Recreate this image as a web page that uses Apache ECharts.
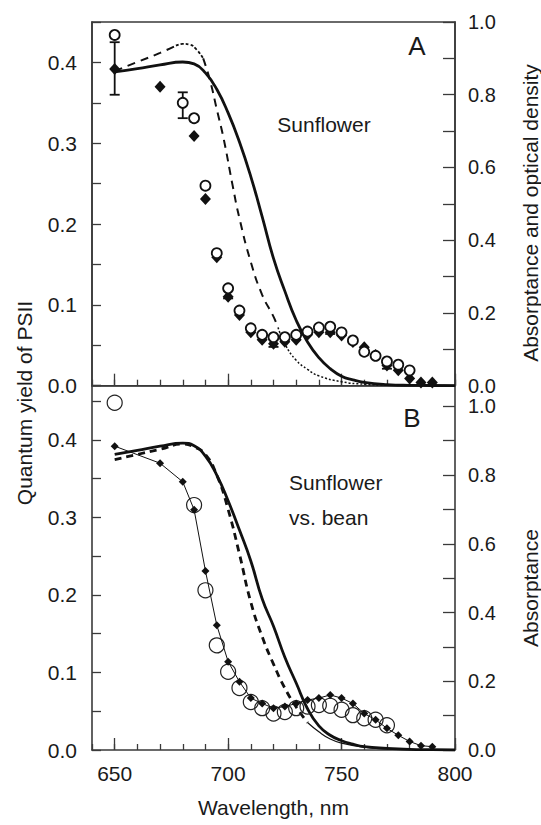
<!DOCTYPE html>
<html><head><meta charset="utf-8">
<script src="https://cdn.jsdelivr.net/npm/echarts@6/dist/echarts.min.js"></script>
<style>html,body{margin:0;padding:0;background:#fff}#c{width:541px;height:825px}</style>
</head><body><div id="c"></div>
<script>
// ---------- DATA ----------
// Panel A (Sunflower)
const circA_wl  = [650, 680, 685, 690, 695, 700, 705, 710, 715, 720, 725, 730, 735, 740, 745, 750, 755, 760, 765, 770, 775, 780];
const circA_val = [0.434, 0.350, 0.331, 0.2475, 0.164, 0.1205, 0.093, 0.071, 0.063, 0.060, 0.060, 0.063, 0.067, 0.072, 0.073, 0.066, 0.056, 0.042, 0.037, 0.030, 0.026, 0.019];
const diaA_wl   = [650, 670, 685, 690, 695, 700, 705, 710, 715, 720, 725, 730, 735, 740, 745, 750, 755, 760, 765, 770, 775, 780, 785, 790];
const diaA_val  = [0.392, 0.370, 0.309, 0.231, 0.159, 0.110, 0.0875, 0.066, 0.057, 0.052, 0.0545, 0.057, 0.063, 0.066, 0.066, 0.062, 0.054, 0.0475, 0.038, 0.025, 0.019, 0.009, 0.004, 0.004];
const errA_wl   = [650, 680, 700, 720, 745, 770];
const errA_lo   = [0.360, 0.331, 0.108, 0.048, 0.064, 0.021];
const errA_hi   = [0.425, 0.363, 0.118, 0.060, 0.074, 0.030];
const absA_wl   = [650, 660, 670, 680, 685, 690, 695, 700, 705, 710, 715, 720, 725, 730, 735, 740, 745, 750, 755, 760, 770, 780, 790, 800];
const absA_val  = [0.863, 0.872, 0.882, 0.890, 0.885, 0.860, 0.815, 0.750, 0.670, 0.575, 0.465, 0.350, 0.260, 0.180, 0.120, 0.077, 0.047, 0.026, 0.016, 0.009, 0.003, 0.001, 0.0005, 0];
const odA_wl    = [650, 660, 670, 677, 680, 683, 686, 689, 692, 695, 698, 702, 705, 710, 715, 720, 722, 725, 730, 735, 740, 750, 760, 770, 780, 800];
const odA_val   = [0.865, 0.890, 0.915, 0.935, 0.940, 0.938, 0.925, 0.900, 0.840, 0.760, 0.680, 0.550, 0.460, 0.340, 0.250, 0.190, 0.160, 0.115, 0.070, 0.045, 0.027, 0.011, 0.004, 0.0015, 0.0005, 0];
// Panel B (Sunflower vs. bean)
const circB_wl  = [650, 685, 690, 695, 700, 705, 710, 715, 720, 725, 730, 735, 740, 745, 750, 755, 760, 765, 770];
const circB_val = [0.448, 0.316, 0.206, 0.135, 0.101, 0.080, 0.062, 0.054, 0.047, 0.049, 0.054, 0.056, 0.058, 0.057, 0.052, 0.045, 0.041, 0.039, 0.032];
const diaB_wl   = [650, 670, 680, 685, 690, 695, 700, 705, 710, 715, 720, 725, 730, 735, 740, 745, 750, 755, 760, 765, 770, 775, 780, 785, 790];
const diaB_val  = [0.392, 0.370, 0.346, 0.310, 0.231, 0.161, 0.114, 0.088, 0.067, 0.060, 0.054, 0.056, 0.060, 0.0645, 0.067, 0.071, 0.067, 0.060, 0.047, 0.039, 0.028, 0.019, 0.011, 0.0056, 0.0043];
const absB_wl   = [650, 660, 670, 680, 685, 690, 695, 700, 705, 710, 715, 720, 725, 730, 735, 740, 745, 750, 755, 760, 770, 780, 790, 800];
const absB_val  = [0.860, 0.872, 0.884, 0.893, 0.885, 0.855, 0.800, 0.725, 0.640, 0.550, 0.440, 0.360, 0.270, 0.195, 0.120, 0.070, 0.043, 0.027, 0.017, 0.010, 0.005, 0.002, 0.001, 0];
const absB2_wl  = [650, 660, 670, 680, 685, 690, 695, 700, 705, 710, 715, 720, 725, 730, 735, 740, 745, 750, 760, 770, 780, 800];
const absB2_val = [0.845, 0.860, 0.875, 0.890, 0.882, 0.860, 0.800, 0.700, 0.570, 0.430, 0.330, 0.250, 0.180, 0.125, 0.080, 0.053, 0.032, 0.020, 0.008, 0.003, 0.001, 0];
// Tick labels
const xTickLabels = [650, 700, 750, 800];
const leftTickLabels = ['0.0', '0.1', '0.2', '0.3', '0.4'];
const rightTickLabels = ['0.0', '0.2', '0.4', '0.6', '0.8', '1.0'];

// ---------- HELPERS ----------
const zip = (a, b) => a.map((v, i) => [v, b[i]]);
const range = (xs, ys, lo, hi) => zip(xs, ys).filter(p => p[0] >= lo && p[0] <= hi);
const FONT = '"Liberation Sans", Arial, Helvetica, sans-serif';
const FS = 21;
const AX = '#3a3a3a';
const TXT = '#1a1a1a';
const fmtLeft = v => { const s = v.toFixed(1); return (Math.abs(v * 10 - Math.round(v * 10)) < 1e-6 && leftTickLabels.includes(s)) ? s : ''; };
const fmtRight = v => { const s = v.toFixed(1); return (Math.abs(v * 10 - Math.round(v * 10)) < 1e-6 && rightTickLabels.includes(s)) ? s : ''; };
const fmtX = v => xTickLabels.includes(Math.round(v)) && Math.abs(v - Math.round(v)) < 1e-6 ? String(v) : '';

const G = { left: 92, width: 363 };
const gridA = { left: G.left, width: G.width, top: 22, height: 363.7 };
const gridB = { left: G.left, width: G.width, top: 385.7, height: 364.3 };
const off = 10 * G.width / 160;

function xAx(gi, showLabels) {
  return {
    type: 'value', gridIndex: gi, min: 640, max: 800, interval: 10,
    axisLine: { lineStyle: { color: AX, width: 1.6 } },
    axisTick: { inside: true, length: 6, lineStyle: { color: AX, width: 1.3 } },
    axisLabel: { show: showLabels, formatter: fmtX, fontSize: FS, fontFamily: FONT, color: TXT, margin: 13 },
    splitLine: { show: false },
    name: showLabels ? 'Wavelength, nm' : '', nameLocation: 'middle', nameGap: 47,
    nameTextStyle: { fontSize: FS, fontFamily: FONT, color: TXT }
  };
}
function majorAx(gi) {
  return {
    type: 'value', gridIndex: gi, min: 650, max: 800, interval: 50,
    axisLine: { show: false },
    axisTick: { inside: true, length: 12, lineStyle: { color: AX, width: 1.3 } },
    axisLabel: { show: false }, splitLine: { show: false }
  };
}
function yAx(gi, pos, max, interval, fmt, tickLen) {
  return {
    type: 'value', gridIndex: gi, position: pos, min: 0, max: max, interval: interval,
    axisLine: { show: true, lineStyle: { color: AX, width: 1.6 } },
    axisTick: { show: true, inside: true, length: tickLen, lineStyle: { color: AX, width: 1.3 } },
    axisLabel: { formatter: fmt, fontSize: pos === 'left' ? FS : 20, fontFamily: FONT, color: TXT, lineHeight: 15,
      margin: pos === 'left' ? 15 : 13, showMaxLabel: true, showMinLabel: true, hideOverlap: false },
    splitLine: { show: false }
  };
}
const hiddenY = gi => ({ type: 'value', gridIndex: gi, min: 0, max: 1, show: false });

const errRender = (params, api) => {
  const x = api.value(0), lo = api.value(1), hi = api.value(2);
  const a = api.coord([x, lo]), b = api.coord([x, hi]);
  const w = 5, st = { stroke: '#111', lineWidth: 1.8 };
  return { type: 'group', children: [
    { type: 'line', shape: { x1: a[0], y1: a[1], x2: b[0], y2: b[1] }, style: st },
    { type: 'line', shape: { x1: a[0] - w, y1: a[1], x2: a[0] + w, y2: a[1] }, style: st },
    { type: 'line', shape: { x1: b[0] - w, y1: b[1], x2: b[0] + w, y2: b[1] }, style: st }
  ]};
};

const lineS = (xi, yi, data, width, type, z) => ({
  type: 'line', xAxisIndex: xi, yAxisIndex: yi, data: data, showSymbol: false, symbol: 'none',
  smooth: 0.5, lineStyle: { color: '#111', width: width, type: type, opacity: 1 }, z: z, silent: true
});

const chart = echarts.init(document.getElementById('c'), null, { renderer: 'svg' });
chart.setOption({
  animation: false,
  backgroundColor: '#fff',
  grid: [
    Object.assign({ show: true, borderColor: AX, borderWidth: 1.6, backgroundColor: 'transparent' }, gridA),
    Object.assign({}, gridB),
    { left: G.left + off, width: G.width - off, top: gridA.top, height: gridA.height },
    { left: G.left + off, width: G.width - off, top: gridB.top, height: gridB.height }
  ],
  xAxis: [xAx(0, false), xAx(1, true), majorAx(2), majorAx(3)],
  yAxis: [
    yAx(0, 'left', 0.45, 0.05, fmtLeft, 9),
    yAx(0, 'right', 1.0, 0.1, fmtRight, 12),
    yAx(1, 'left', 0.47, 0.05, fmtLeft, 9),
    yAx(1, 'right', 1.06, 0.1, fmtRight, 12),
    hiddenY(2), hiddenY(3)
  ],
  series: [
    // Panel A
    lineS(0, 1, zip(absA_wl, absA_val), 2.8, 'solid', 2),
    lineS(0, 1, range(odA_wl, odA_val, 650, 677), 2, [8, 6], 2),
    lineS(0, 1, range(odA_wl, odA_val, 677, 689), 1.8, [3, 2], 2),
    lineS(0, 1, range(odA_wl, odA_val, 689, 722), 2, [8, 6], 2),
    lineS(0, 1, range(odA_wl, odA_val, 722, 800), 1.5, [2, 2], 2),
    { type: 'custom', xAxisIndex: 0, yAxisIndex: 0, renderItem: errRender, encode: { x: 0, y: [1, 2] },
      data: errA_wl.map((w, i) => [w, errA_lo[i], errA_hi[i]]), z: 3, silent: true },
    { type: 'scatter', xAxisIndex: 0, yAxisIndex: 0, data: zip(diaA_wl, diaA_val), symbol: 'diamond', symbolSize: [11, 12],
      itemStyle: { color: '#111', opacity: 1 }, z: 4, silent: true },
    { type: 'scatter', xAxisIndex: 0, yAxisIndex: 0, data: zip(circA_wl, circA_val), symbol: 'circle', symbolSize: 10,
      itemStyle: { color: '#fff', borderColor: '#111', borderWidth: 1.8, opacity: 1 }, z: 5, silent: true },
    // Panel B
    lineS(1, 3, zip(absB_wl, absB_val), 2.8, 'solid', 2),
    lineS(1, 3, range(absB2_wl, absB2_val, 650, 735), 2.8, [7, 5], 2),
    lineS(1, 3, range(absB2_wl, absB2_val, 735, 800), 1.2, 'solid', 2),
    { type: 'scatter', xAxisIndex: 1, yAxisIndex: 2, data: zip(circB_wl, circB_val), symbol: 'circle', symbolSize: 15,
      itemStyle: { color: 'rgba(255,255,255,0)', borderColor: '#222', borderWidth: 1.2, opacity: 1 }, z: 4, silent: true },
    { type: 'line', xAxisIndex: 1, yAxisIndex: 2, data: zip(diaB_wl, diaB_val), symbol: 'diamond', symbolSize: 8, showSymbol: true,
      lineStyle: { color: '#111', width: 1 }, itemStyle: { color: '#111', opacity: 1 }, z: 5, silent: true }
  ],
  graphic: [
    { type: 'text', x: 417, y: 46, style: { text: 'A', font: '26px ' + FONT, fill: TXT, textAlign: 'center', textVerticalAlign: 'middle' } },
    { type: 'text', x: 412, y: 418, style: { text: 'B', font: '26px ' + FONT, fill: TXT, textAlign: 'center', textVerticalAlign: 'middle' } },
    { type: 'text', x: 324, y: 124, style: { text: 'Sunflower', font: FS + 'px ' + FONT, fill: TXT, textAlign: 'center', textVerticalAlign: 'middle' } },
    { type: 'text', x: 289, y: 482, style: { text: 'Sunflower', font: FS + 'px ' + FONT, fill: TXT, textAlign: 'left', textVerticalAlign: 'middle' } },
    { type: 'text', x: 289, y: 517, style: { text: 'vs. bean', font: FS + 'px ' + FONT, fill: TXT, textAlign: 'left', textVerticalAlign: 'middle' } },
    { type: 'text', x: 24, y: 403, rotation: Math.PI / 2, style: { text: 'Quantum yield of PSII', font: FS + 'px ' + FONT, fill: TXT, textAlign: 'center', textVerticalAlign: 'middle' } },
    { type: 'text', x: 530, y: 213, rotation: Math.PI / 2, style: { text: 'Absorptance and optical density', font: FS + 'px ' + FONT, fill: TXT, textAlign: 'center', textVerticalAlign: 'middle' } },
    { type: 'text', x: 530, y: 588, rotation: Math.PI / 2, style: { text: 'Absorptance', font: FS + 'px ' + FONT, fill: TXT, textAlign: 'center', textVerticalAlign: 'middle' } }
  ]
});
</script>
</body></html>
